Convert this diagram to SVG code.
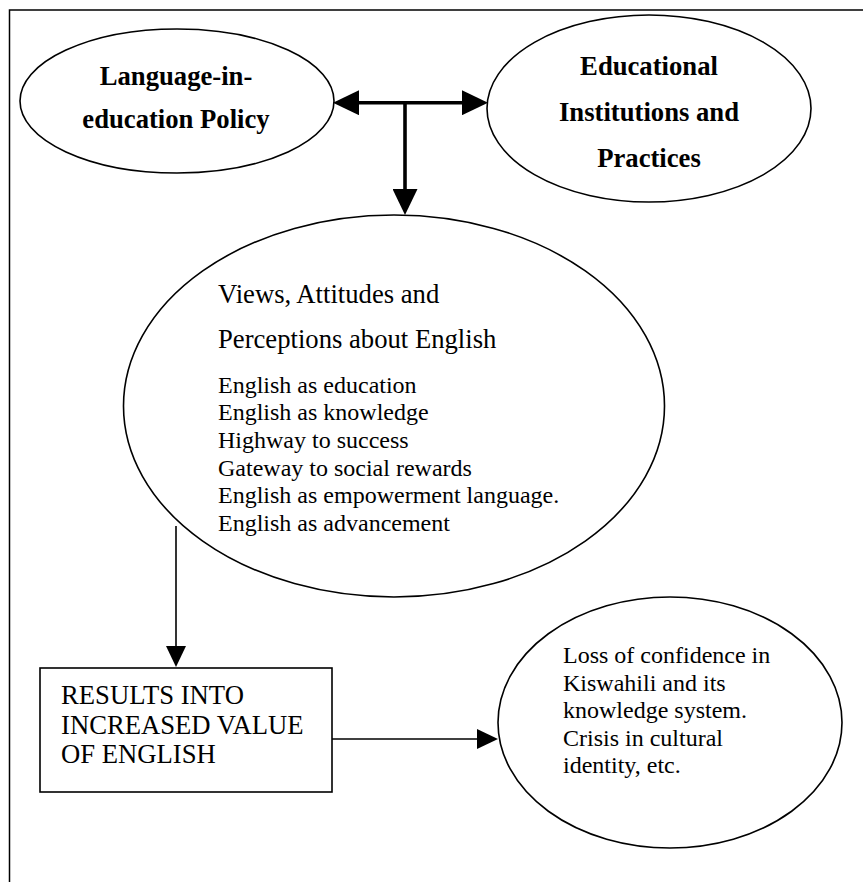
<svg xmlns="http://www.w3.org/2000/svg" width="863" height="882" viewBox="0 0 863 882">
  <defs>
    <style>
      .frame { fill: none; stroke: #000; stroke-width: 1.5; }
      .node { fill: #fff; stroke: #000; stroke-width: 1.6; }
      .title { font-family: "Liberation Serif", "Times New Roman", serif; font-weight: bold; font-size: 26.67px; fill: #000; text-anchor: middle; }
      .big { font-family: "Liberation Serif", "Times New Roman", serif; font-size: 26.67px; fill: #000; }
      .body { font-family: "Liberation Serif", "Times New Roman", serif; font-size: 24px; fill: #000; }
      .thick { fill: none; stroke: #000; stroke-width: 3.6; }
      .thin { fill: none; stroke: #000; stroke-width: 1.6; }
    </style>
    <marker id="headBig" viewBox="0 0 26 25" refX="6" refY="12.5" markerWidth="26" markerHeight="25" markerUnits="userSpaceOnUse" orient="auto-start-reverse">
      <path d="M0,0 L26,12.5 L0,25 Z" fill="#000"/>
    </marker>
    <marker id="headSmall" viewBox="0 0 21 20" refX="5" refY="10" markerWidth="21" markerHeight="20" markerUnits="userSpaceOnUse" orient="auto-start-reverse">
      <path d="M0,0 L21,10 L0,20 Z" fill="#000"/>
    </marker>
  </defs>

  <rect width="863" height="882" fill="#fff"/>
  <!-- page frame (right and bottom edges fall outside the canvas) -->
  <rect class="frame" x="9.5" y="10" width="880" height="900"/>

  <g id="policy">
    <ellipse class="node" cx="177" cy="101" rx="157" ry="72"/>
    <text class="title" x="176" y="85">Language-in-</text>
    <text class="title" x="176" y="128">education Policy</text>
  </g>

  <g id="institutions">
    <ellipse class="node" cx="649" cy="108.5" rx="162" ry="93.5"/>
    <text class="title" x="649" y="75">Educational</text>
    <text class="title" x="649" y="121">Institutions and</text>
    <text class="title" x="649" y="167">Practices</text>
  </g>

  <g id="perceptions">
    <ellipse class="node" cx="394" cy="406" rx="270.5" ry="191"/>
    <text class="big" x="218" y="303">Views, Attitudes and</text>
    <text class="big" x="218" y="348">Perceptions about English</text>
    <text class="body" x="218" y="392.7">English as education</text>
    <text class="body" x="218" y="420.3">English as knowledge</text>
    <text class="body" x="218" y="448">Highway to success</text>
    <text class="body" x="218" y="475.6">Gateway to social rewards</text>
    <text class="body" x="218" y="503.2">English as empowerment language.</text>
    <text class="body" x="218" y="530.8">English as advancement</text>
  </g>

  <g id="result">
    <rect class="node" x="40" y="668" width="292" height="124"/>
    <text class="big" x="61" y="704">RESULTS INTO</text>
    <text class="big" x="61" y="733.5">INCREASED VALUE</text>
    <text class="big" x="61" y="763">OF ENGLISH</text>
  </g>

  <g id="consequences">
    <ellipse class="node" cx="670" cy="722.5" rx="172" ry="125.5"/>
    <text class="body" x="563" y="663">Loss of confidence in</text>
    <text class="body" x="563" y="690.6">Kiswahili and its</text>
    <text class="body" x="563" y="718.2">knowledge system.</text>
    <text class="body" x="563" y="745.8">Crisis in cultural</text>
    <text class="body" x="563" y="773.4">identity, etc.</text>
  </g>

  <g id="connectors">
    <line class="thick" x1="353" y1="102.7" x2="468" y2="102.7" marker-start="url(#headBig)" marker-end="url(#headBig)"/>
    <line class="thick" x1="405" y1="102.7" x2="405" y2="195" marker-end="url(#headBig)"/>
    <line class="thin" x1="176" y1="526" x2="176" y2="651" marker-end="url(#headSmall)"/>
    <line class="thin" x1="332" y1="739" x2="482" y2="739" marker-end="url(#headSmall)"/>
  </g>
</svg>
